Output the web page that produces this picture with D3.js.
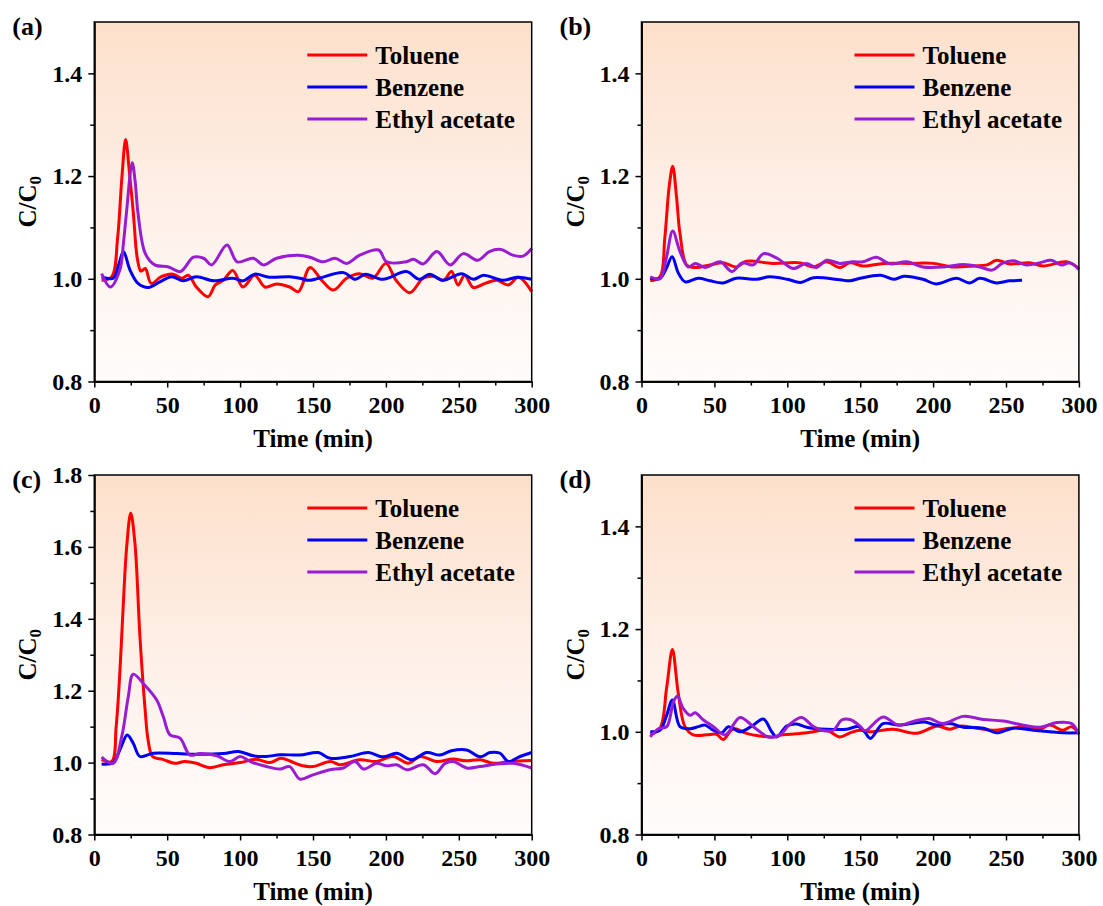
<!DOCTYPE html>
<html>
<head>
<meta charset="utf-8">
<script src="https://cdn.jsdelivr.net/npm/d3@7"></script>
<style>
body{margin:0;background:#fff}
text{font-family:"Liberation Serif","Times New Roman",serif;font-weight:bold;fill:#000}
</style>
</head>
<body>
<svg id="chart" width="1103" height="906"></svg>
<script>
// series names + colours
const seriesNames = ["Toluene", "Benzene", "Ethyl acetate"]
const seriesColors = ["#ff0000", "#0000f0", "#9a1cd2"]

// x ticks
const xMajor = [0, 50, 100, 150, 200, 250, 300]
const xMinor = [25, 75, 125, 175, 225, 275]

// [time (min), C/C0]
const aToluene = [[5,0.997],[12,1.004],[16,1.08],[19,1.2],[21.5,1.271],[24,1.21],[26.8,1.127],[29.5,1.04],[32,1.015],[35,1.02],[39,0.991],[46,1.004],[54,1.009],[60,1.001],[64.5,1.007],[70,0.984],[78,0.965],[83,0.988],[88.5,0.997],[95,1.016],[102,0.984],[110,1.007],[117,0.984],[125,0.99],[134,0.984],[140,0.975],[148,1.022],[156,0.997],[164,0.978],[173,1.001],[182,1.01],[191,1.001],[200,1.03],[207,0.997],[216.5,0.973],[225.5,1.001],[232.5,1.005],[239.5,0.997],[245,1.014],[249.5,0.988],[254,1.007],[260,0.983],[268,0.991],[276,0.997],[284,0.988],[291,1.003],[300,0.975]]
const aBenzene = [[5,1.004],[13,1.001],[17,1.03],[20,1.053],[24.5,1.017],[30,0.991],[37,0.983],[45,0.994],[53,1.004],[61,0.996],[70,1.004],[82,0.996],[95,1.001],[102,0.996],[110,1.009],[120,1.003],[134,1.004],[141,1.001],[147,0.997],[154,1.001],[171,1.012],[179,0.999],[186,1.009],[198,0.999],[214,1.014],[223,0.999],[230,1.009],[239,0.997],[252,1.01],[260,0.999],[267,1.007],[280,0.997],[290,1.003],[300,0.999]]
const aEthyl = [[5,1.01],[11,0.984],[17.5,1.017],[20,1.07],[22,1.127],[26,1.226],[28,1.19],[30,1.127],[35,1.049],[41.5,1.027],[51,1.023],[59,1.014],[68,1.042],[75,1.04],[80.5,1.027],[91,1.066],[98,1.033],[109,1.04],[116,1.027],[125,1.04],[140,1.046],[148,1.042],[157,1.033],[165,1.04],[173,1.03],[182,1.046],[195,1.056],[200.5,1.033],[214,1.033],[219,1.038],[225.5,1.029],[235,1.053],[244,1.027],[253,1.049],[263,1.036],[271,1.053],[279,1.057],[287,1.046],[294,1.044],[300,1.059]]

const bToluene = [[6,0.996],[12.7,1.004],[16,1.08],[19,1.18],[21.4,1.219],[24,1.16],[26.4,1.088],[31,1.027],[37,1.022],[47,1.027],[56,1.031],[65,1.023],[72,1.034],[90,1.03],[109,1.031],[118,1.023],[127,1.033],[136,1.022],[143,1.031],[152,1.025],[166,1.03],[184,1.03],[200,1.03],[214,1.023],[228,1.025],[237,1.027],[243.5,1.036],[252.5,1.029],[266,1.031],[275.5,1.025],[291.5,1.033],[300,1.02]]
const bBenzene = [[6,1.001],[12.7,1.001],[17,1.02],[21,1.043],[25.3,1.011],[30,0.994],[39,1.001],[47,0.996],[56,0.992],[65,1.001],[79,0.999],[88,1.004],[100,0.999],[109,0.993],[118,1.002],[136,0.998],[143,0.996],[150,1.001],[164,1.007],[173,0.999],[180,1.005],[193,0.999],[202,0.99],[216,1.001],[225,0.992],[232,1.001],[243.5,0.992],[252.5,0.996],[261,0.997]]
const bEthyl = [[6,1.004],[12.7,1.0],[17,1.04],[21.4,1.093],[26.4,1.053],[32,1.023],[37,1.03],[43.6,1.022],[54,1.033],[62,1.014],[69,1.031],[76.6,1.027],[83.7,1.049],[93,1.04],[104,1.02],[113,1.03],[120,1.022],[127,1.036],[136,1.03],[145,1.033],[152,1.033],[161,1.042],[170.5,1.029],[182,1.033],[193,1.023],[207,1.023],[221,1.028],[232,1.023],[240.6,1.017],[247.4,1.03],[255,1.035],[264,1.027],[273,1.031],[281,1.036],[288,1.027],[294,1.031],[300,1.018]]

const cToluene = [[5,1.008],[12,1.003],[15,1.1],[17.6,1.257],[20,1.45],[22.2,1.6],[25,1.694],[27.9,1.609],[31.3,1.35],[34.8,1.15],[37,1.06],[40,1.017],[47,1.009],[55,0.998],[62,1.003],[70,0.998],[79,0.986],[88.5,0.994],[100,1.0],[111,1.009],[120.5,1.0],[128,1.012],[135,1.003],[143,0.991],[150,0.989],[162,1.003],[168.5,0.994],[182,1.008],[193.6,1.003],[205,1.017],[215.4,0.998],[223.4,1.017],[234.8,1.003],[246,1.01],[255,1.005],[264.6,1.008],[273.7,0.998],[285,1.003],[300,1.006]]
const cBenzene = [[5,0.996],[13,1.0],[18,1.04],[22.6,1.077],[26.7,1.054],[31.3,1.017],[40.5,1.026],[56.5,1.025],[72.5,1.023],[88.5,1.025],[99,1.031],[109,1.019],[118,1.017],[127.4,1.022],[141,1.021],[153.6,1.028],[161.7,1.012],[175.4,1.017],[188,1.028],[198,1.016],[207.4,1.026],[217.7,1.008],[228,1.028],[237,1.021],[245,1.033],[255.4,1.035],[264.6,1.016],[271.4,1.028],[278.3,1.026],[284,1.003],[292,1.017],[300,1.028]]
const cEthyl = [[5,1.015],[13,0.998],[18.8,1.072],[23.3,1.183],[26.7,1.246],[33.6,1.22],[42.8,1.174],[47.3,1.128],[51.9,1.077],[58.8,1.068],[65.6,1.021],[72.5,1.025],[84,1.019],[93,1.003],[100,1.017],[107,1.003],[118,0.989],[127.4,0.982],[134,0.989],[141,0.954],[150,0.966],[161.7,0.98],[170.8,0.985],[178.8,1.003],[184.6,0.982],[193.6,0.998],[200.5,0.991],[207.4,0.994],[214.3,0.98],[225.7,0.994],[233.7,0.969],[240.6,0.998],[246.3,1.003],[255.4,0.985],[264.6,0.989],[276,0.996],[287.4,0.998],[300,0.985]]

const dToluene = [[6,0.994],[12.7,1.007],[17.3,1.087],[21.2,1.16],[25.2,1.075],[29.8,1.01],[35.5,0.994],[44.6,0.994],[51.5,0.995],[56,0.985],[63,1.006],[72,0.997],[81,0.992],[90,0.99],[97,0.994],[106,0.996],[115.6,0.999],[127,1.003],[136,0.99],[143,0.998],[150,1.003],[157,1.0],[172.7,1.005],[188.7,0.997],[202.4,1.011],[211.6,1.005],[218.4,1.011],[230,1.007],[241,1.003],[252.7,1.007],[264,1.009],[273,1.005],[280,1.013],[289,1.003],[295,1.01],[300,0.997]]
const dBenzene = [[6,1.0],[12.7,1.003],[17,1.03],[21.2,1.062],[26.4,1.01],[33.3,1.006],[39,1.01],[43.6,1.013],[49.3,1.003],[55,0.998],[59.6,1.01],[67.6,1.0],[75.6,1.011],[83.6,1.025],[89.3,1.0],[92.7,0.99],[99.6,1.011],[106.4,1.015],[113.3,1.009],[127,1.005],[140.7,1.005],[148.7,1.01],[153,1.0],[157,0.987],[165.6,1.016],[176,1.013],[185,1.016],[194.3,1.019],[202.4,1.013],[211.6,1.016],[220.8,1.009],[234.5,1.007],[243.5,0.998],[255,1.007],[268.6,1.003],[280,1.0],[289.3,0.998],[300,0.998]]
const dEthyl = [[6,0.99],[11.6,1.006],[17.3,1.01],[21.9,1.058],[24.6,1.069],[28.7,1.045],[33.3,1.032],[36.7,1.037],[42.5,1.023],[49.3,1.01],[57.4,0.994],[67.6,1.028],[76.7,1.01],[87,0.99],[95,0.994],[101.8,1.015],[109.8,1.028],[117.9,1.01],[123.6,1.003],[131.5,1.003],[137.3,1.023],[143,1.024],[149.9,1.011],[153.3,1.002],[165.6,1.029],[176,1.013],[187.4,1.021],[197.4,1.026],[206.5,1.016],[220.8,1.03],[234.5,1.024],[248.2,1.021],[261.9,1.013],[273.3,1.009],[284.8,1.018],[295,1.016],[300,0.995]]

// y ticks
const yMajorSmall = [0.8, 1.0, 1.2, 1.4]
const yMinorSmall = [0.9, 1.1, 1.3]
const yMajorBig = [0.8, 1.0, 1.2, 1.4, 1.6, 1.8]
const yMinorBig = [0.9, 1.1, 1.3, 1.5, 1.7]

const panels = [
	{label:"(a)", left:94.3, top:22, yMax:1.5, yMajor:yMajorSmall, yMinor:yMinorSmall, series:[aToluene, aBenzene, aEthyl]},
	{label:"(b)", left:641.5, top:22, yMax:1.5, yMajor:yMajorSmall, yMinor:yMinorSmall, series:[bToluene, bBenzene, bEthyl]},
	{label:"(c)", left:94.3, top:475, yMax:1.8, yMajor:yMajorBig, yMinor:yMinorBig, series:[cToluene, cBenzene, cEthyl]},
	{label:"(d)", left:641.5, top:475, yMax:1.5, yMajor:yMajorSmall, yMinor:yMinorSmall, series:[dToluene, dBenzene, dEthyl]}
]

const width = 437.4
const height = 359.5
const font = "'Liberation Serif','Times New Roman',serif"

const svg = d3.select("#chart")

const grad = svg.append("defs").append("linearGradient")
	.attr("id", "bg")
	.attr("x1", 0).attr("y1", 0).attr("x2", 0).attr("y2", 1)
grad.append("stop").attr("offset", "0%").attr("stop-color", "#fde0cb")
grad.append("stop").attr("offset", "55%").attr("stop-color", "#fef1ea")
grad.append("stop").attr("offset", "100%").attr("stop-color", "#fffcfb")

panels.forEach(function(p){
	const xScale = d3.scaleLinear().domain([0, 300]).range([0, width])
	const yScale = d3.scaleLinear().domain([0.8, p.yMax]).range([height, 0])

	const g = svg.append("g")
		.attr("transform", "translate(" + p.left + ", " + p.top + ")")

	g.append("rect")
		.attr("width", width)
		.attr("height", height)
		.attr("fill", "url(#bg)")

	// minor ticks
	g.append("g")
		.attr("transform", "translate(0, " + height + ")")
		.call(d3.axisBottom(xScale).tickValues(xMinor).tickSize(4).tickSizeOuter(0).tickFormat(""))
	g.append("g")
		.call(d3.axisLeft(yScale).tickValues(p.yMinor).tickSize(4).tickSizeOuter(0).tickFormat(""))

	g.append("g")
		.attr("transform", "translate(0, " + height + ")")
		.call(d3.axisBottom(xScale).tickValues(xMajor).tickSize(6).tickSizeOuter(0).tickPadding(8).tickFormat(d3.format("d")))
	g.append("g")
		.call(d3.axisLeft(yScale).tickValues(p.yMajor).tickSize(6).tickSizeOuter(0).tickPadding(6).tickFormat(d3.format(".1f")))

	g.selectAll(".domain").attr("stroke-width", 1.5)
	g.selectAll(".tick line").attr("stroke-width", 1.5)
	g.selectAll(".tick text")
		.attr("font-family", font)
		.attr("font-weight", "bold")
		.attr("font-size", 24)
		.attr("fill", "#000")

	// lines
	const line = d3.line()
		.x(function(d){return xScale(d[0])})
		.y(function(d){return yScale(d[1])})
		.curve(d3.curveCatmullRom.alpha(0.5))

	p.series.forEach(function(s, i){
		g.append("path")
			.datum(s)
			.attr("d", line)
			.attr("fill", "none")
			.attr("stroke", seriesColors[i])
			.attr("stroke-width", 3)
			.attr("stroke-linejoin", "round")
	})

	// frame
	g.append("rect")
		.attr("width", width)
		.attr("height", height)
		.attr("fill", "none")
		.attr("stroke", "#000")
		.attr("stroke-width", 1.5)

	// legend
	seriesNames.forEach(function(name, i){
		const ly = 33 + i * 32
		g.append("line")
			.attr("x1", 213).attr("x2", 273)
			.attr("y1", ly).attr("y2", ly)
			.attr("stroke", seriesColors[i])
			.attr("stroke-width", 3)
		g.append("text")
			.attr("x", 281)
			.attr("y", ly)
			.attr("dy", "0.35em")
			.attr("font-size", 25)
			.text(name)
	})

	// X Label
	g.append("text")
		.attr("x", width / 2)
		.attr("y", height + 65)
		.attr("font-size", 25)
		.attr("text-anchor", "middle")
		.text("Time (min)")

	// Y Label
	const yl = g.append("text")
		.attr("transform", "translate(-58, " + (height / 2) + ") rotate(-90)")
		.attr("font-size", 25)
		.attr("text-anchor", "middle")
	yl.append("tspan").text("C/C")
	yl.append("tspan").attr("font-size", 17).attr("dy", 5).text("0")

	// panel label
	g.append("text")
		.attr("x", -82)
		.attr("y", 13)
		.attr("font-size", 26)
		.text(p.label)
})
</script>
</body>
</html>
